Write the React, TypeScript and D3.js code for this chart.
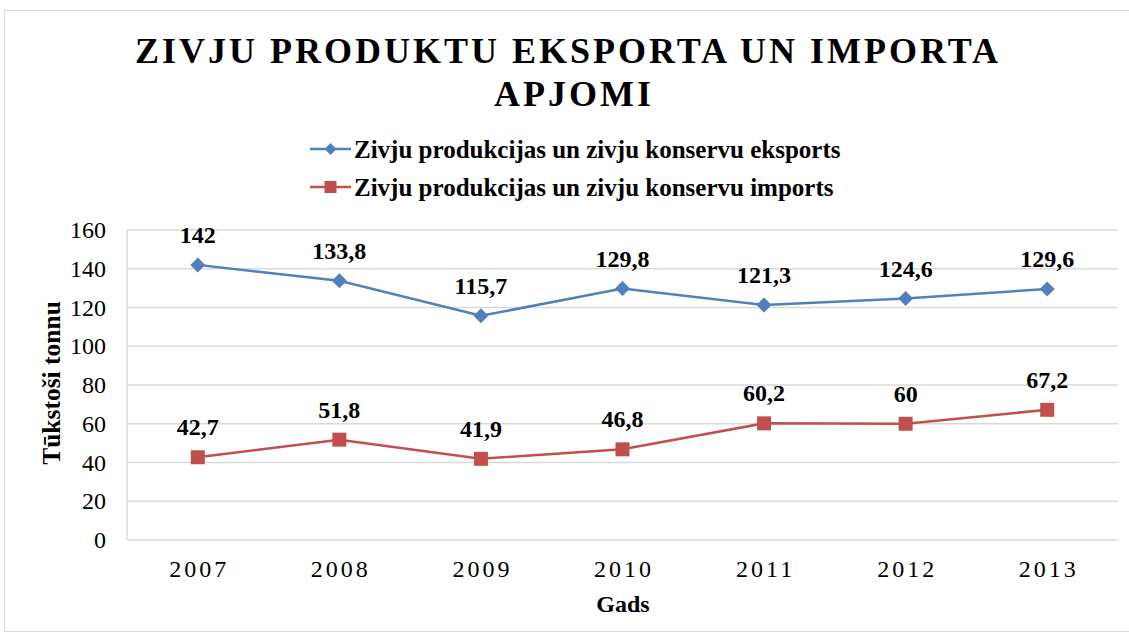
import React from "react";
import * as d3 from "d3";

const years = ["2007", "2008", "2009", "2010", "2011", "2012", "2013"];
const exportValues = [142, 133.8, 115.7, 129.8, 121.3, 124.6, 129.6];
const importValues = [42.7, 51.8, 41.9, 46.8, 60.2, 60, 67.2];
const yTicks = [0, 20, 40, 60, 80, 100, 120, 140, 160];
const seriesNames = [
  "Zivju produkcijas un zivju konservu eksports",
  "Zivju produkcijas un zivju konservu imports",
];

const W = 1129;
const H = 637;
const left = 127;
const right = 1118;
const top = 230;
const bottom = 540;
const serif = "'Liberation Serif', 'Times New Roman', serif";
const blue = "#4F81BD";
const red = "#C0504D";

export default function App() {
  const x = d3.scaleBand<string>().domain(years).range([left, right]);
  const y = d3.scaleLinear().domain([0, 160]).range([bottom, top]);
  const cx = (yr: string) => (x(yr) as number) + x.bandwidth() / 2;
  const line = d3
    .line<number>()
    .x((_, i) => cx(years[i]))
    .y((d) => y(d));
  const fmt = (v: number) => String(v).replace(".", ",");
  const diamond = (px: number, py: number, r: number) =>
    `M${px},${py - r}L${px + r},${py}L${px},${py + r}L${px - r},${py}Z`;

  return (
    <svg
      width={W}
      height={H}
      style={{ position: "absolute", left: 0, top: 0, background: "#fff" }}
      fontFamily={serif}
    >
      <rect x={4.5} y={10.5} width={1140} height={621} fill="#fff" stroke="#d9d9d9" />
      <text x={568} y={63} textAnchor="middle" fontSize={36} fontWeight="bold" letterSpacing={3}>
        ZIVJU PRODUKTU EKSPORTA UN IMPORTA
      </text>
      <text x={574} y={106} textAnchor="middle" fontSize={36} fontWeight="bold" letterSpacing={3}>
        APJOMI
      </text>

      {/* legend */}
      {[0, 1].map((i) => {
        const ly = i === 0 ? 149 : 187;
        const col = i === 0 ? blue : red;
        return (
          <g key={i}>
            <line x1={310} x2={351} y1={ly} y2={ly} stroke={col} strokeWidth={2.5} />
            {i === 0 ? (
              <path d={diamond(330.5, ly, 6)} fill={col} />
            ) : (
              <rect x={324.5} y={ly - 6} width={12} height={12} fill={col} />
            )}
            <text x={354} y={ly + 9} fontSize={25} fontWeight="bold">
              {seriesNames[i]}
            </text>
          </g>
        );
      })}

      {/* grid */}
      {yTicks.map((t) => (
        <g key={t}>
          <line x1={left} x2={right} y1={y(t)} y2={y(t)} stroke="#d9d9d9" strokeWidth={1.3} />
          <text x={106} y={y(t) + 8} textAnchor="end" fontSize={24}>
            {t}
          </text>
        </g>
      ))}
      <line x1={left} x2={left} y1={top} y2={bottom} stroke="#d9d9d9" strokeWidth={1.3} />

      {years.map((yr) => (
        <text key={yr} x={cx(yr) + 1.5} y={577} textAnchor="middle" fontSize={24} letterSpacing={3}>
          {yr}
        </text>
      ))}
      <text x={623} y={612} textAnchor="middle" fontSize={24} fontWeight="bold">
        Gads
      </text>
      <text
        transform={`translate(60,${383}) rotate(-90)`}
        textAnchor="middle"
        fontSize={25.5}
        fontWeight="bold"
      >
        Tūkstoši tonnu
      </text>

      {/* series */}
      <path d={line(exportValues) || ""} fill="none" stroke={blue} strokeWidth={2.5} />
      <path d={line(importValues) || ""} fill="none" stroke={red} strokeWidth={2.5} />
      {exportValues.map((v, i) => (
        <g key={"e" + i}>
          <path d={diamond(cx(years[i]), y(v), 7.5)} fill={blue} />
          <text x={cx(years[i])} y={y(v) - 22} textAnchor="middle" fontSize={24} fontWeight="bold">
            {fmt(v)}
          </text>
        </g>
      ))}
      {importValues.map((v, i) => (
        <g key={"i" + i}>
          <rect x={cx(years[i]) - 7} y={y(v) - 7} width={14} height={14} fill={red} />
          <text x={cx(years[i])} y={y(v) - 22} textAnchor="middle" fontSize={24} fontWeight="bold">
            {fmt(v)}
          </text>
        </g>
      ))}
    </svg>
  );
}
